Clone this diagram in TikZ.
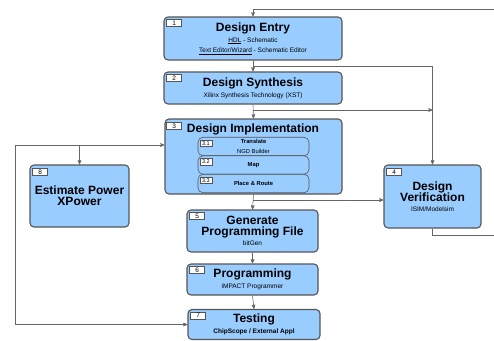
\documentclass[tikz,border=0pt]{standalone}
\usepackage{fontspec}
\setmainfont{Liberation Sans}
\usetikzlibrary{shapes}
\usetikzlibrary{arrows}
\definecolor{flblue}{RGB}{153,204,255}
\definecolor{flgray}{RGB}{85,85,85}
\newcommand{\fltitle}{\fontsize{12}{14}\selectfont\bfseries}
\newcommand{\flsub}{\fontsize{6.5}{9}\selectfont}
\newcommand{\flsmall}{\fontsize{5.8}{7}\selectfont}
\tikzset{
	flownode/.style = {align=center, inner sep=0pt, text centered},
	fl_box/.style = {flownode, rectangle, rounded corners=4pt, draw=flgray,
		fill=flblue, line width=1.1pt},% etape principale
	fl_sub/.style = {flownode, rectangle, rounded corners=5pt, draw=flgray,
		fill=flblue, line width=0.6pt, minimum width=111pt, minimum height=18.5pt},% sous-etape
	fl_num/.style = {flownode, rectangle, draw=flgray, fill=white, line width=0.5pt,
		font=\fontsize{6.5}{7}\selectfont, minimum width=15pt, minimum height=7pt,
		anchor=north west},% numero d'etape
	fl_subnum/.style = {fl_num, font=\fontsize{5.5}{6}\selectfont,
		minimum width=12pt, minimum height=6.5pt},% numero de sous-etape
	fl_line/.style = {draw=black!60, line width=0.6pt}% liaison
}

\begin{document}
\begin{tikzpicture}[x=1pt, y=-1pt, ->, >=stealth']
	\useasboundingbox (0,0) rectangle (494,340);
	% etapes
	\node [fl_box, minimum width=178pt, minimum height=43pt] (b1) at (253,38.5)
		{\fltitle Design Entry\\[-1pt] \flsub\underline{HDL} - Schematic\\[-1.5pt]
		\flsub\underline{Text Editor/Wizard} - Schematic Editor};
	\node [fl_box, minimum width=178pt, minimum height=32pt] (b2) at (253,88)
		{\fltitle Design Synthesis\\[-1pt] \flsub Xilinx Synthesis Technology (XST)};
	\node [fl_box, minimum width=177pt, minimum height=75pt] (b3) at (253.5,156.5) {};
	\node [flownode] (b3t) at (253,129) {\fltitle Design Implementation};
	\node [fl_sub] (s1) at (253.5,146.5)
		{\flsmall\bfseries Translate\\[-1.5pt] \flsmall NGD Builder};
	\node [fl_sub] (s2) at (253.5,165) {\flsmall\bfseries Map};
	\node [fl_sub] (s3) at (253.5,183.5) {\flsmall\bfseries Place \& Route};
	\node [fl_box, minimum width=99pt, minimum height=62pt] (b8) at (79.5,196)
		{\fltitle Estimate Power\\[-1pt] \fltitle XPower};
	\node [fl_box, minimum width=97pt, minimum height=63pt] (b4) at (432.5,196.5)
		{\fltitle Design\\[-1pt] \fltitle Verification\\[-2pt] \flsub ISIM/Modelsim};
	\node [fl_box, minimum width=131pt, minimum height=42pt] (b5) at (252.5,231)
		{\fltitle Generate\\[-1pt] \fltitle Programming File\\[-2pt] \flsub bitGen};
	\node [fl_box, minimum width=131pt, minimum height=31pt] (b6) at (252.5,279.5)
		{\fltitle Programming\\[-1pt] \flsub iMPACT Programmer};
	\node [fl_box, minimum width=132pt, minimum height=30pt] (b7) at (254,324.5)
		{\fltitle Testing\\[-1pt] \flsub\bfseries ChipScope / External Appl};
	% numeros
	\node [fl_num] (n1) at ([shift={(3pt,-3pt)}]b1.north west) {1};
	\node [fl_num] (n2) at ([shift={(3pt,-3pt)}]b2.north west) {2};
	\node [fl_num] (n3) at ([shift={(2pt,-4pt)}]b3.north west) {3};
	\node [fl_num] (n4) at ([shift={(3pt,-4pt)}]b4.north west) {4};
	\node [fl_num] (n5) at ([shift={(3pt,-3pt)}]b5.north west) {5};
	\node [fl_num] (n6) at ([shift={(3pt,-3pt)}]b6.north west) {6};
	\node [fl_num] (n7) at ([shift={(3pt,-3pt)}]b7.north west) {7};
	\node [fl_num] (n8) at ([shift={(3pt,-4pt)}]b8.north west) {8};
	\node [fl_subnum] (n31) at ([shift={(2pt,-3pt)}]s1.north west) {3.1};
	\node [fl_subnum] (n32) at ([shift={(2pt,-3pt)}]s2.north west) {3.2};
	\node [fl_subnum] (n33) at ([shift={(2pt,-3pt)}]s3.north west) {3.3};
	% points de liaison
	\coordinate (top_in) at (494,9);
	\coordinate (j12) at (253,66);
	\coordinate (j23) at (253,110);
	\coordinate (j35) at (253,200);
	\coordinate (right_out) at (494,235);
	\coordinate (left_bus) at (15,145);
	% liaisons
	\draw [fl_line] (top_in) -| (b1.north);
	\draw [fl_line] (b1.south) -- (b2.north);
	\draw [fl_line] (b2.south) -- (b3.north);
	\draw [fl_line] (b3.south) -- (b5.north);
	\draw [fl_line] (b5.south) -- (b6.north);
	\draw [fl_line] (b6.south) -- (b7.north);
	\draw [fl_line] (j12) -| (b4.north);
	\draw [fl_line] (j23) -- (j23 -| b4.north);
	\draw [fl_line] (j35) -- (j35 -| b4.west);
	\draw [fl_line, -] (b4.south) |- (right_out);
	\draw [fl_line] (left_bus) -- (left_bus -| b3.west);
	\draw [fl_line] (left_bus -| b8.north) -- (b8.north);
	\draw [fl_line] (left_bus) |- (b7.west);
\end{tikzpicture}
\end{document}
